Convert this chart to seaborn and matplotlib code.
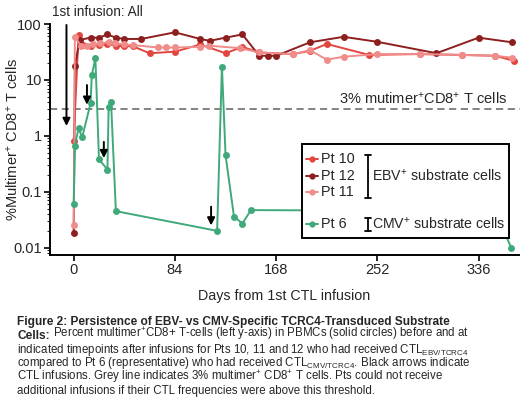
import numpy as np
import pandas as pd
import matplotlib
matplotlib.use("Agg")
import matplotlib.pyplot as plt
import matplotlib.patches as patches
from matplotlib.ticker import LogLocator, NullFormatter
import seaborn as sns

# ---- data -------------------------------------------------------------
pt10_days = [0, 4, 8, 14, 21, 28, 35, 42, 49, 63, 84, 105, 126, 140, 154, 182, 196, 210, 245, 287, 322, 350, 365]
pt10_vals = [0.8, 64, 42, 41, 42, 43, 41, 40, 40, 30, 32, 43, 30, 39, 31, 29, 33, 44, 28, 29, 28, 27, 22]

pt12_days = [0, 1, 5, 14, 21, 28, 35, 42, 56, 84, 105, 113, 126, 140, 154, 161, 168, 196, 224, 252, 301, 336, 364]
pt12_vals = [0.018, 18, 52, 57, 57, 65, 57, 54, 54, 71, 54, 50, 57, 65, 27, 27, 27, 47, 59, 48, 30, 57, 47]

pt11_days = [0, 1, 6, 11, 16, 22, 29, 34, 42, 49, 70, 77, 84, 105, 112, 138, 154, 182, 196, 210, 224, 252, 287, 322, 350, 364]
pt11_vals = [0.025, 59, 41, 41, 43, 45, 47, 45, 43, 42, 38, 38, 38, 39, 41, 37, 31, 29, 34, 23, 26, 29, 29, 28, 27, 25]

pt6_days = [0, 1, 4, 7, 14, 15, 18, 21, 28, 29, 31, 35, 119, 123, 126, 133, 140, 147, 350, 363]
pt6_vals = [0.06, 0.67, 1.36, 0.94, 3.8, 12.2, 24.3, 0.38, 0.25, 3.3, 4.0, 0.045, 0.02, 17.3, 0.45, 0.036, 0.027, 0.047, 0.045, 0.01]

# infusion arrows (day, top value, tip value)
arrow_days = [-6, 11, 25, 114]
arrow_top = [96, 8.1, 0.78, 0.054]
arrow_tip = [1.5, 3.6, 0.40, 0.025]

threshold = 3
x_ticks = [0, 84, 168, 252, 336]
y_ticks = [0.01, 0.1, 1, 10, 100]
y_ticklabels = ['0.01', '0.1', '1', '10', '100']

series = [
    ('Pt 10', pt10_days, pt10_vals, '#e2463f'),
    ('Pt 12', pt12_days, pt12_vals, '#8e1f1f'),
    ('Pt 11', pt11_days, pt11_vals, '#f08c8a'),
    ('Pt 6', pt6_days, pt6_vals, '#3fa97a'),
]

# ---- style ---------------------------------------------------------------
sns.set_style("ticks")
plt.rcParams['font.family'] = ['Liberation Sans', 'DejaVu Sans']
plt.rcParams['mathtext.fontset'] = 'custom'
plt.rcParams['mathtext.rm'] = 'Liberation Sans'
plt.rcParams['mathtext.it'] = 'Liberation Sans:italic'
plt.rcParams['mathtext.bf'] = 'Liberation Sans:bold'

fig = plt.figure(figsize=(5.2, 3.99), dpi=100)
ax = fig.add_axes([49.6 / 520, 1 - 255 / 399, 470 / 520, 231 / 399])

# pixel -> axes fraction helpers for the hand-made legend
fx = lambda x: (x - 49.6) / 470
fy = lambda y: (255 - y) / 231

for name, d, v, c in series:
    df = pd.DataFrame({'day': d, 'val': v})
    sns.lineplot(x='day', y='val', data=df, ax=ax, color=c, marker='o',
                 markersize=5, markeredgewidth=0, linewidth=1.4,
                 estimator=None, sort=False, clip_on=False)

ax.axhline(threshold, color='#7a7a7a', linestyle=(0, (4, 2.5)), linewidth=1.3, zorder=1)
ax.annotate('3% mutimer$^{+}$CD8$^{+}$ T cells', xy=(fx(507), threshold),
            xycoords=ax.get_yaxis_transform(), xytext=(0, 2), textcoords='offset points',
            ha='right', va='bottom', fontsize=10.5)

for d, top, tip in zip(arrow_days, arrow_top, arrow_tip):
    ax.annotate('', xy=(d, tip), xytext=(d, top),
                arrowprops=dict(arrowstyle='-|>', color='black', lw=1.4,
                                mutation_scale=11, shrinkA=0, shrinkB=0))
fig.text(52 / 520, 1 - 12 / 399, '1st infusion: All', ha='left', va='center', fontsize=9.8)

ax.set_yscale('log')
ax.set_xlim(-20, 370)
ax.set_ylim(0.0074, 100)
ax.set_xticks(x_ticks)
ax.set_yticks(y_ticks, y_ticklabels)
ax.yaxis.set_minor_locator(LogLocator(base=10, subs=np.arange(2, 10)))
ax.yaxis.set_minor_formatter(NullFormatter())
ax.tick_params(axis='both', which='major', labelsize=10.5, length=4, width=1.2, pad=1.5, color='black')
ax.tick_params(axis='y', which='minor', length=2.5, width=0.8)
sns.despine(ax=ax)
for s in ['left', 'bottom']:
    ax.spines[s].set_linewidth(1.4)
    ax.spines[s].set_color('black')

ax.set_xlabel('Days from 1st CTL infusion', fontsize=10.3, labelpad=9)
ax.set_ylabel('%Multimer$^{+}$ CD8$^{+}$ T cells', fontsize=10.5)
ax.yaxis.set_label_coords(fx(21), 0.5)

# ---- hand-made legend --------------------------------------------------
box = patches.Rectangle((fx(302), fy(238)), fx(509) - fx(302), fy(144) - fy(238),
                        transform=ax.transAxes, facecolor='white', edgecolor='black',
                        linewidth=1.4, zorder=5, clip_on=False)
ax.add_patch(box)
rows_y = [159, 175.5, 192, 224]
for (name, d, v, c), ry in zip(series, rows_y):
    ax.plot([fx(306), fx(318)], [fy(ry), fy(ry)], color=c, lw=1.4,
            transform=ax.transAxes, zorder=6, clip_on=False)
    ax.plot([fx(312)], [fy(ry)], 'o', color=c, ms=4.5, mew=0,
            transform=ax.transAxes, zorder=6, clip_on=False)
    ax.text(fx(321), fy(ry), name, transform=ax.transAxes, va='center', ha='left',
            fontsize=10.4, zorder=6)
for y0, y1, ymid, label in [(155, 198, 175.5, 'EBV$^{+}$ substrate cells'),
                            (218, 231, 224, 'CMV$^{+}$ substrate cells')]:
    ax.annotate('', xy=(fx(368), fy(y1)), xytext=(fx(368), fy(y0)), xycoords='axes fraction',
                arrowprops=dict(arrowstyle='|-|', lw=1.3, mutation_scale=2.5,
                                shrinkA=0, shrinkB=0, color='black'), zorder=6)
    ax.text(fx(372), fy(ymid), label, transform=ax.transAxes, va='center', ha='left',
            fontsize=10.2, zorder=6)

# ---- caption --------------------------------------------------------------
fs = 8.3
fsb = 8.6
x0 = 17 / 520
base = [325 + 13.8 * i for i in range(6)]
fig.text(x0, 1 - base[0] / 399,
         'Figure 2: Persistence of EBV- vs CMV-Specific TCRC4-Transduced Substrate',
         fontsize=fsb, fontweight='bold', ha='left', va='baseline')
t = fig.text(x0, 1 - base[1] / 399, 'Cells:', fontsize=fsb, fontweight='bold',
             ha='left', va='baseline')
ax.annotate(' Percent multimer$^{+}$CD8+ T-cells (left y-axis) in PBMCs (solid circles) before and at',
            xy=(1, 0), xycoords=t, ha='left', va='bottom', fontsize=fs, annotation_clip=False)
rest = [
    r'indicated timepoints after infusions for Pts 10, 11 and 12 who had received CTL$_{\mathrm{EBV/TCRC4}}$',
    r'compared to Pt 6 (representative) who had received CTL$_{\mathrm{CMV/TCRC4}}$. Black arrows indicate',
    r'CTL infusions. Grey line indicates 3% multimer$^{+}$ CD8$^{+}$ T cells. Pts could not receive',
    r'additional infusions if their CTL frequencies were above this threshold.',
]
for yb, line in zip(base[2:], rest):
    fig.text(x0, 1 - yb / 399, line, fontsize=fs, ha='left', va='baseline')

fig.savefig('out.png', dpi=100)
